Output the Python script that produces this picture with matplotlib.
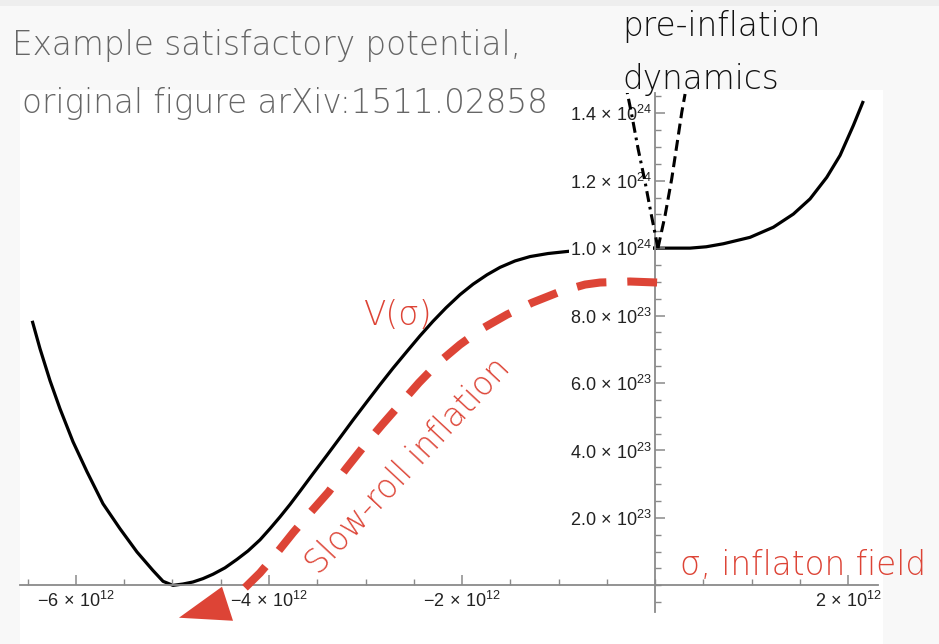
import matplotlib
matplotlib.use("Agg")
import matplotlib.pyplot as plt
from matplotlib.patches import Rectangle, Polygon
from matplotlib.ticker import FixedLocator, MultipleLocator, FuncFormatter

# potential V(sigma): sigma in units of 1e12, V in units of 1e24
sigma_left = [-6.449, -6.373, -6.269, -6.166, -6.031, -5.886, -5.720, -5.544, -5.368,
              -5.202, -5.098, -4.995, -4.891, -4.788, -4.684, -4.580, -4.456, -4.332,
              -4.218, -4.093, -3.990, -3.886, -3.782, -3.679, -3.544, -3.399, -3.264,
              -3.130, -2.984, -2.850, -2.715, -2.570, -2.435, -2.301, -2.166, -2.021,
              -1.886, -1.741, -1.606, -1.451, -1.295, -1.109, -0.881, -0.570, -0.259,
              0.0]
V_left = [0.780, 0.702, 0.607, 0.524, 0.426, 0.337, 0.242, 0.168, 0.099,
          0.044, 0.012, 0.0, 0.004, 0.010, 0.020, 0.033, 0.052, 0.077,
          0.102, 0.135, 0.168, 0.203, 0.240, 0.279, 0.331, 0.386, 0.438,
          0.490, 0.545, 0.595, 0.644, 0.694, 0.740, 0.783, 0.823, 0.862,
          0.893, 0.921, 0.943, 0.962, 0.975, 0.984, 0.991, 0.996, 0.999,
          1.0]
sigma_right = [0.0, 0.363, 0.53, 0.708, 0.984, 1.226, 1.433, 1.606, 1.779, 1.917,
               2.055, 2.152]
V_right = [1.0, 1.0, 1.004, 1.013, 1.032, 1.062, 1.101, 1.146, 1.210, 1.275,
           1.364, 1.432]

# pre-inflation branches
pre_left_x = [0.03, -0.041, -0.104, -0.176, -0.238, -0.290]
pre_left_y = [1.0, 1.102, 1.197, 1.295, 1.390, 1.464]
pre_right_x = [0.03, 0.104, 0.173, 0.225, 0.277, 0.311]
pre_right_y = [1.0, 1.097, 1.206, 1.304, 1.403, 1.457]

# red slow-roll arrow path and head
arrow_x = [0.021, -0.259, -0.570, -0.725, -0.984, -1.275, -1.534, -1.793, -2.021,
           -2.249, -2.446, -2.642, -2.829, -3.021, -3.202, -3.383, -3.565, -3.751,
           -3.927, -4.093, -4.249]
arrow_y = [0.898, 0.901, 0.898, 0.892, 0.871, 0.838, 0.803, 0.761, 0.714,
           0.659, 0.601, 0.537, 0.476, 0.411, 0.346, 0.277, 0.218, 0.156,
           0.093, 0.037, -0.007]
head_x = [-4.933, -4.487, -4.373]
head_y = [-0.096, -0.004, -0.105]

x_major = [-6, -4, -2, 2]
y_major = [0.2, 0.4, 0.6, 0.8, 1.0, 1.2, 1.4]

RED = "#dd4436"
W, H = 939, 644

plt.rcParams["mathtext.fontset"] = "custom"
plt.rcParams["mathtext.rm"] = "Liberation Sans"
plt.rcParams["mathtext.it"] = "Liberation Sans:italic"

fig = plt.figure(figsize=(W / 100, H / 100), dpi=100, facecolor="#f8f8f8")
# slight shadow band at the top of the slide
fig.patches.append(Rectangle((0, 1 - 6 / H), 1, 6 / H, transform=fig.transFigure,
                             facecolor="#eeeeee", edgecolor="none", zorder=-6))
# white block behind the pasted plot
fig.patches.append(Rectangle((20 / W, 0), (883 - 20) / W, (644 - 90) / H,
                             transform=fig.transFigure, facecolor="white",
                             edgecolor="none", zorder=-5))

ax = fig.add_axes([20 / W, (H - 612) / H, (878 - 20) / W, (612 - 93) / H])
ax.set_facecolor("none")
ax.set_axisbelow(False)
ax.set_xlim(-6.58, 2.31)
ax.set_ylim(-0.079, 1.46)

for s in ["top", "right"]:
    ax.spines[s].set_visible(False)
ax.spines["left"].set_position(("data", 0))
ax.spines["bottom"].set_position(("data", 0))
for s in ["left", "bottom"]:
    ax.spines[s].set_color("#8a8a8a")
    ax.spines[s].set_linewidth(1.3)


def fmt_x(v, pos):
    return r"$%d\,\times\,10^{12}$" % v


def fmt_y(v, pos):
    if v < 0.99:
        return r"$%.1f\,\times\,10^{23}$" % (v * 10)
    return r"$%.1f\,\times\,10^{24}$" % v


ax.xaxis.set_major_locator(FixedLocator(x_major))
ax.xaxis.set_minor_locator(MultipleLocator(0.5))
ax.yaxis.set_major_locator(FixedLocator(y_major))
ax.yaxis.set_minor_locator(MultipleLocator(0.05))
ax.xaxis.set_major_formatter(FuncFormatter(fmt_x))
ax.yaxis.set_major_formatter(FuncFormatter(fmt_y))
ax.tick_params(which="both", direction="in", color="#8a8a8a", labelcolor="#222222",
               labelsize=13)
ax.tick_params(which="major", length=7, width=1.1)
ax.tick_params(which="minor", length=4, width=1.0)
ax.tick_params(axis="x", pad=4)
ax.tick_params(axis="y", pad=2)
for t in ax.get_yticklabels():
    t.set_bbox(dict(facecolor="white", edgecolor="none", pad=0.5))

ax.plot(sigma_left, V_left, color="black", lw=2.3, zorder=2)
ax.plot(sigma_right, V_right, color="black", lw=2.3, zorder=2)
ax.plot(pre_left_x, pre_left_y, color="black", lw=2.2, zorder=3,
        dashes=(3.6, 1.6, 0.9, 1.6))
ax.plot(pre_right_x, pre_right_y, color="black", lw=2.2, zorder=3, dashes=(3.6, 1.8))

ax.plot(arrow_x, arrow_y, color=RED, lw=5.8, zorder=4, dashes=(3.7, 2.6),
        solid_capstyle="butt", clip_on=False)
ax.add_patch(Polygon(list(zip(head_x, head_y)), closed=True, facecolor=RED,
                     edgecolor="none", zorder=4, clip_on=False))

hand = dict(family="DejaVu Sans", fontweight="light", fontsize=23.5)
fig.text(12 / W, 1 - 55 / H, "Example satisfactory potential,", color="#666666",
         va="baseline", ha="left", **hand)
fig.text(22 / W, 1 - 113 / H, "original figure arXiv:1511.02858", color="#666666",
         va="baseline", ha="left", **hand)
fig.text(622 / W, 1 - 36 / H, "pre-inflation", color="#111111",
         va="baseline", ha="left", **hand)
fig.text(622 / W, 1 - 89 / H, "dynamics", color="#111111",
         va="baseline", ha="left", **hand)
fig.text(680 / W, 1 - 575 / H, "σ, inflaton field", color=RED,
         va="baseline", ha="left", **hand)
fig.text(397 / W, 1 - 316 / H, "V(σ)", color=RED,
         va="center", ha="center", **hand)
fig.text(408 / W, 1 - 466 / H, "Slow-roll inflation", color=RED,
         va="center", ha="center", rotation=47, rotation_mode="anchor", **hand)

fig.savefig("out.png", dpi=100, facecolor=fig.get_facecolor())
